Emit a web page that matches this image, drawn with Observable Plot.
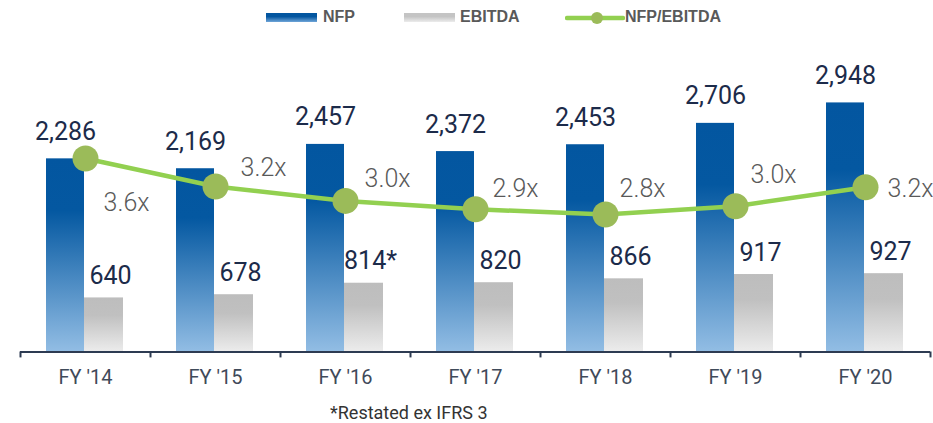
<!DOCTYPE html>
<html>
<head>
<meta charset="utf-8">
<script src="https://cdn.jsdelivr.net/npm/d3@7"></script>
<script src="https://cdn.jsdelivr.net/npm/@observablehq/plot@0.6"></script>
<style>
  html, body { margin: 0; padding: 0; background: #fff; }
  #wrap { position: relative; width: 933px; height: 423px; overflow: hidden; }
  #legend { position: absolute; left: 0; top: 0; width: 933px; height: 30px;
            font-family: "Liberation Sans", Arial, sans-serif; font-weight: bold; font-size: 16px; color: #595959; }
  #legend .it { position: absolute; top: 8px; height: 18px; line-height: 18px; }
  #legend .sw { position: absolute; top: 13px; width: 51px; height: 9px; }
  #chart { position: absolute; left: 0; top: 30px; }
  #note { position: absolute; left: 330px; top: 400px; line-height: 26px;
          font-family: Roboto, sans-serif; font-size: 18px; color: #333; }
</style>
</head>
<body>
<div id="wrap">
  <div id="legend">
    <div class="sw" style="left:266px;background:linear-gradient(#0356a0,#0356a0 40%,#6fa5d8);"></div>
    <div class="it" style="left:323px;">NFP</div>
    <div class="sw" style="left:404px;background:linear-gradient(#c4c4c4,#c4c4c4 40%,#ececec);"></div>
    <div class="it" style="left:460px;">EBITDA</div>
    <svg style="position:absolute;left:565px;top:9px;" width="60" height="18">
      <line x1="2" y1="9" x2="58" y2="9" stroke="#92d050" stroke-width="4.5" stroke-linecap="round"></line>
      <circle cx="32" cy="9" r="6" fill="#9bbb59"></circle>
    </svg>
    <div class="it" style="left:625px;">NFP/EBITDA</div>
  </div>
  <div id="chart"></div>
  <div id="note">*Restated ex IFRS 3</div>
</div>
<script>
const years = ["FY '14", "FY '15", "FY '16", "FY '17", "FY '18", "FY '19", "FY '20"];
const nfp = [2286, 2169, 2457, 2372, 2453, 2706, 2948];
const nfpLabels = ["2,286", "2,169", "2,457", "2,372", "2,453", "2,706", "2,948"];
const ebitda = [640, 678, 814, 820, 866, 917, 927];
const ebitdaLabels = ["640", "678", "814*", "820", "866", "917", "927"];
const ratio = [3.57, 3.20, 3.01, 2.90, 2.83, 2.94, 3.19];
const ratioLabels = ["3.6x", "3.2x", "3.0x", "2.9x", "2.8x", "3.0x", "3.2x"];

// layout (pixel offsets of the ratio labels relative to their dots)
const ratioLabelDx = [41, 48, 42, 40, 37, 38, 45];
const ratioLabelDy = [44, -19, -22, -20, -26, -31, 2];

const rows = years.map((year, i) => ({
  year, nfp: nfp[i], nfpLabel: nfpLabels[i],
  ebitda: ebitda[i], ebitdaLabel: ebitdaLabels[i],
  ratio: ratio[i], ratioLabel: ratioLabels[i]
}));

// secondary (ratio) axis mapped onto the primary value axis
const ratioToY = d3.scaleLinear().domain([2.8, 3.6]).range([1600, 2317]);

const navy = "#2d3b52";

const chart = Plot.plot({
  width: 933,
  height: 370,
  marginLeft: 20,
  marginRight: 3,
  marginTop: 30,
  marginBottom: 48.5,
  style: { fontFamily: "Roboto, sans-serif", fontSize: "20px", color: "#3f4a5a", background: "white", overflow: "visible" },
  x: { type: "band", domain: years, padding: 0, tickSize: 0, tickPadding: 18, label: null, fontSize: 20 },
  y: { domain: [0, 3450], axis: null },
  marks: [
    Plot.barY(rows, { x: "year", y: "nfp", fill: "url(#gradNFP)", insetLeft: 26, insetRight: 66 }),
    Plot.barY(rows, { x: "year", y: "ebitda", fill: "url(#gradEBITDA)", insetLeft: 64, insetRight: 27 }),
    Plot.ruleY([0], { stroke: navy, strokeWidth: 2 }),
    Plot.ruleX(rows, { x: "year", y1: 0, y2: -70, dx: -65, stroke: navy, strokeWidth: 2 }),
    Plot.ruleX(rows.slice(-1), { x: "year", y1: 0, y2: -70, dx: 65, stroke: navy, strokeWidth: 2 }),
    Plot.text(rows, { x: "year", y: "nfp", text: "nfpLabel", dx: -20, dy: -27, fontSize: 25, fill: "#1c2b4a", fontFamily: "Roboto, sans-serif" }),
    Plot.text(rows, { x: "year", y: "ebitda", text: "ebitdaLabel", dx: 25, dy: -22, fontSize: 25, fill: "#1c2b4a", fontFamily: "Roboto, sans-serif" }),
    Plot.line(rows, { x: "year", y: d => ratioToY(d.ratio), stroke: "#92d050", strokeWidth: 4.5 }),
    Plot.dot(rows, { x: "year", y: d => ratioToY(d.ratio), r: 13, fill: "#9bbb59", stroke: "none" }),
    ...rows.map((r, i) => Plot.text([r], {
      x: "year", y: d => ratioToY(d.ratio), text: "ratioLabel",
      dx: ratioLabelDx[i], dy: ratioLabelDy[i],
      fontSize: 25, fontWeight: 300, fill: "#595959", fontFamily: "Roboto, sans-serif"
    }))
  ]
});

const defs = d3.select(chart).insert("defs", ":first-child");
const g1 = defs.append("linearGradient").attr("id", "gradNFP").attr("x1", 0).attr("y1", 0).attr("x2", 0).attr("y2", 1);
g1.append("stop").attr("offset", "0%").attr("stop-color", "#0356a0");
g1.append("stop").attr("offset", "27%").attr("stop-color", "#0458a1");
g1.append("stop").attr("offset", "100%").attr("stop-color", "#92bde4");
const g2 = defs.append("linearGradient").attr("id", "gradEBITDA").attr("x1", 0).attr("y1", 0).attr("x2", 0).attr("y2", 1);
g2.append("stop").attr("offset", "0%").attr("stop-color", "#bdbdbd");
g2.append("stop").attr("offset", "33%").attr("stop-color", "#c0c0c0");
g2.append("stop").attr("offset", "100%").attr("stop-color", "#ececec");

document.getElementById("chart").appendChild(chart);
</script>
</body>
</html>
